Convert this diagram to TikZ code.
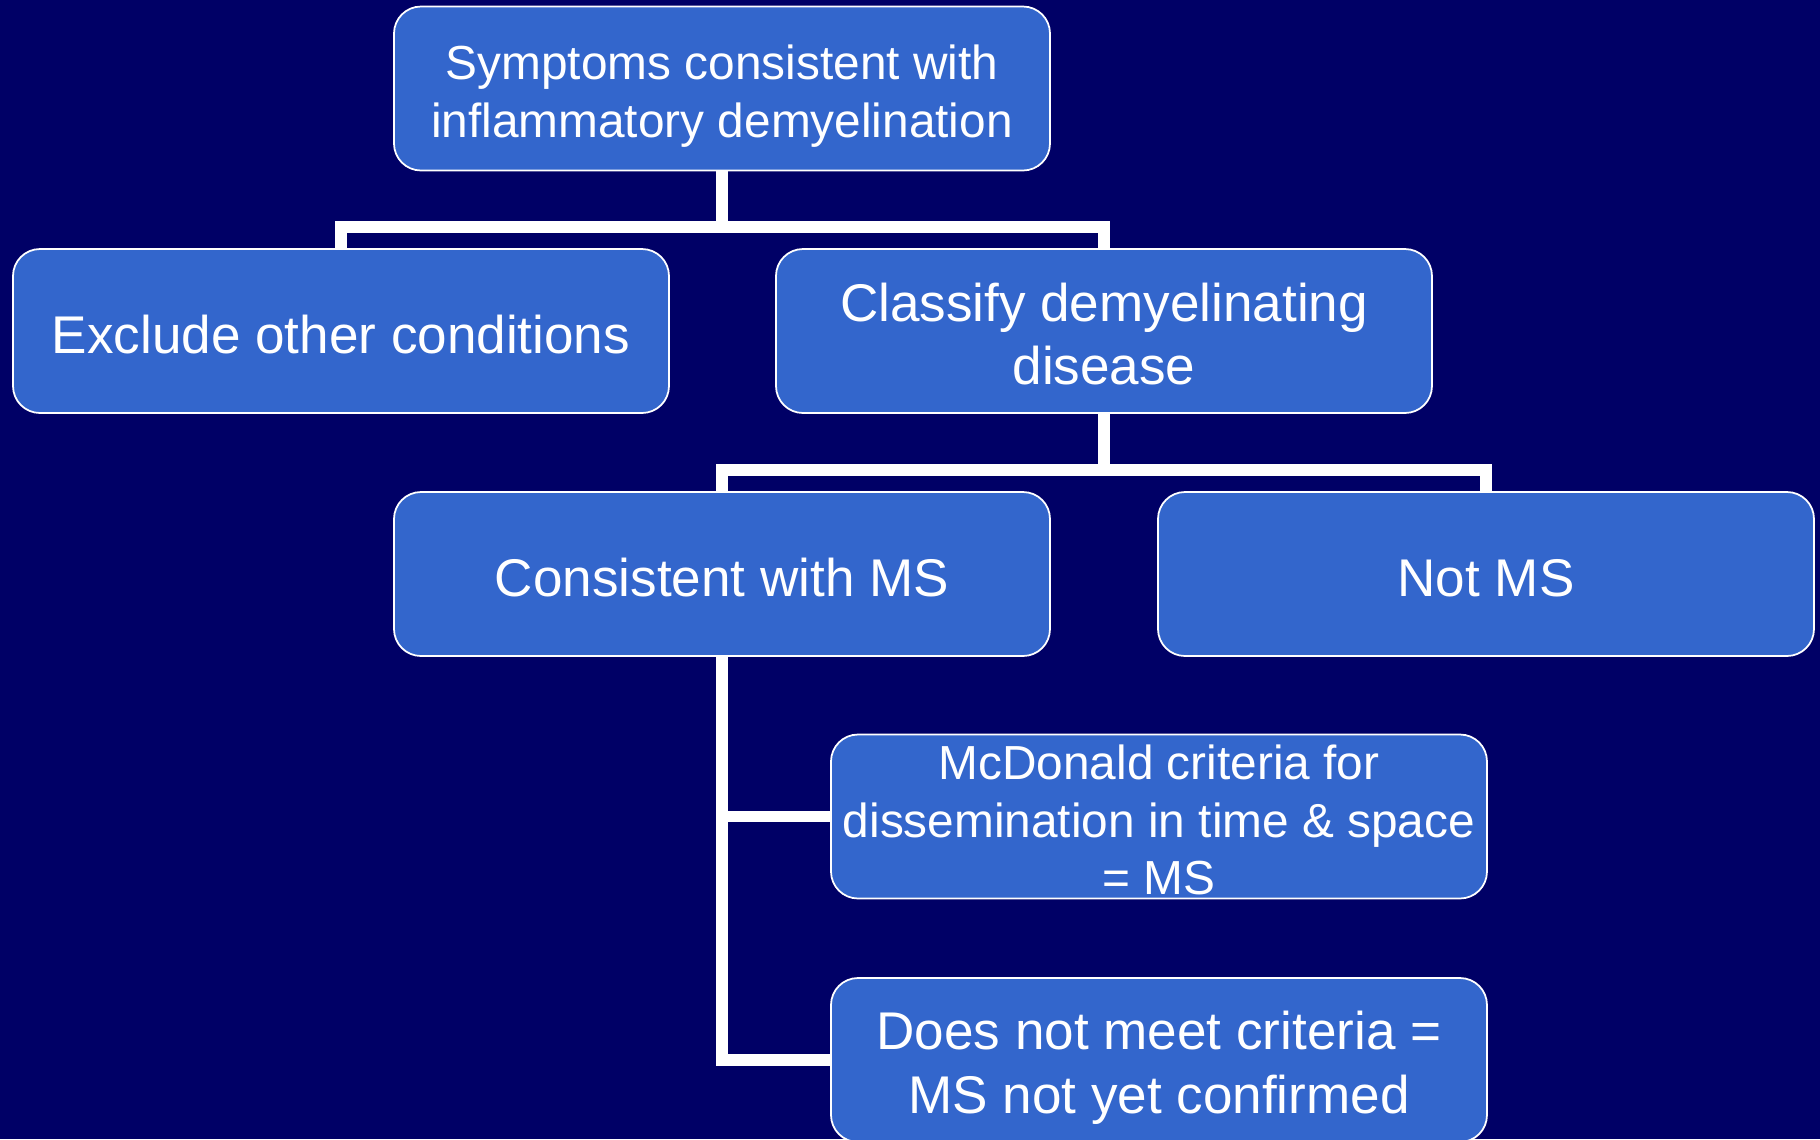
\documentclass[tikz,border=0pt]{standalone}
\usepackage{fontspec}
\setmainfont{Liberation Sans}
\definecolor{navy}{RGB}{0,0,102}
\definecolor{boxblue}{RGB}{51,102,204}
\newcommand{\gapline}[1]{\rule{0pt}{#1}}

\begin{document}
\begin{tikzpicture}[
    box/.style={draw=white, line width=0.5pt, fill=boxblue, rounded corners=0.27cm,
      minimum width=6.56cm, minimum height=1.64cm, inner sep=0pt, align=center,
      text=white, font=\fontsize{15.1}{17.9}\selectfont},
    small/.style={font=\fontsize{13.6}{16.4}\selectfont},
    link/.style={draw=white, line width=3.4pt},
  ]
        \fill[navy] (0, 0) rectangle (18.2, -11.39);
        \clip (0, 0) rectangle (18.2, -11.39);

        \node[box, small] (sym) at (7.22, -0.885) {\gapline{1.05em}Symptoms consistent with\\inflammatory demyelination};
        \node[box] (excl) at (3.41, -3.31) {\gapline{0.85em}Exclude other conditions};
        \node[box] (clas) at (11.04, -3.31) {\gapline{0.855em}Classify demyelinating\\disease};
        \node[box] (cons) at (7.22, -5.74) {\gapline{0.85em}Consistent with MS};
        \node[box] (notms) at (14.86, -5.74) {\gapline{0.85em}Not MS};
        \node[box, small] (mcd) at (11.59, -8.165) {\gapline{0.88em}McDonald criteria for\\dissemination in time \& space\\= MS};
        \node[box, font=\fontsize{15.1}{18.2}\selectfont] (dnm) at (11.59, -10.60) {\gapline{1.03em}Does not meet criteria =\\MS not yet confirmed};

        \draw[link] (sym.south) -- ++(0, -0.555) coordinate (j1) -| (excl.north);
        \draw[link] (j1) -| (clas.north);
        \draw[link] (clas.south) -- ++(0, -0.56) coordinate (j2) -| (cons.north);
        \draw[link] (j2) -| (notms.north);
        \draw[link] (cons.south) |- (dnm.west);
        \draw[link] (cons.south |- mcd.west) -- (mcd.west);
      \end{tikzpicture}
\end{document}
